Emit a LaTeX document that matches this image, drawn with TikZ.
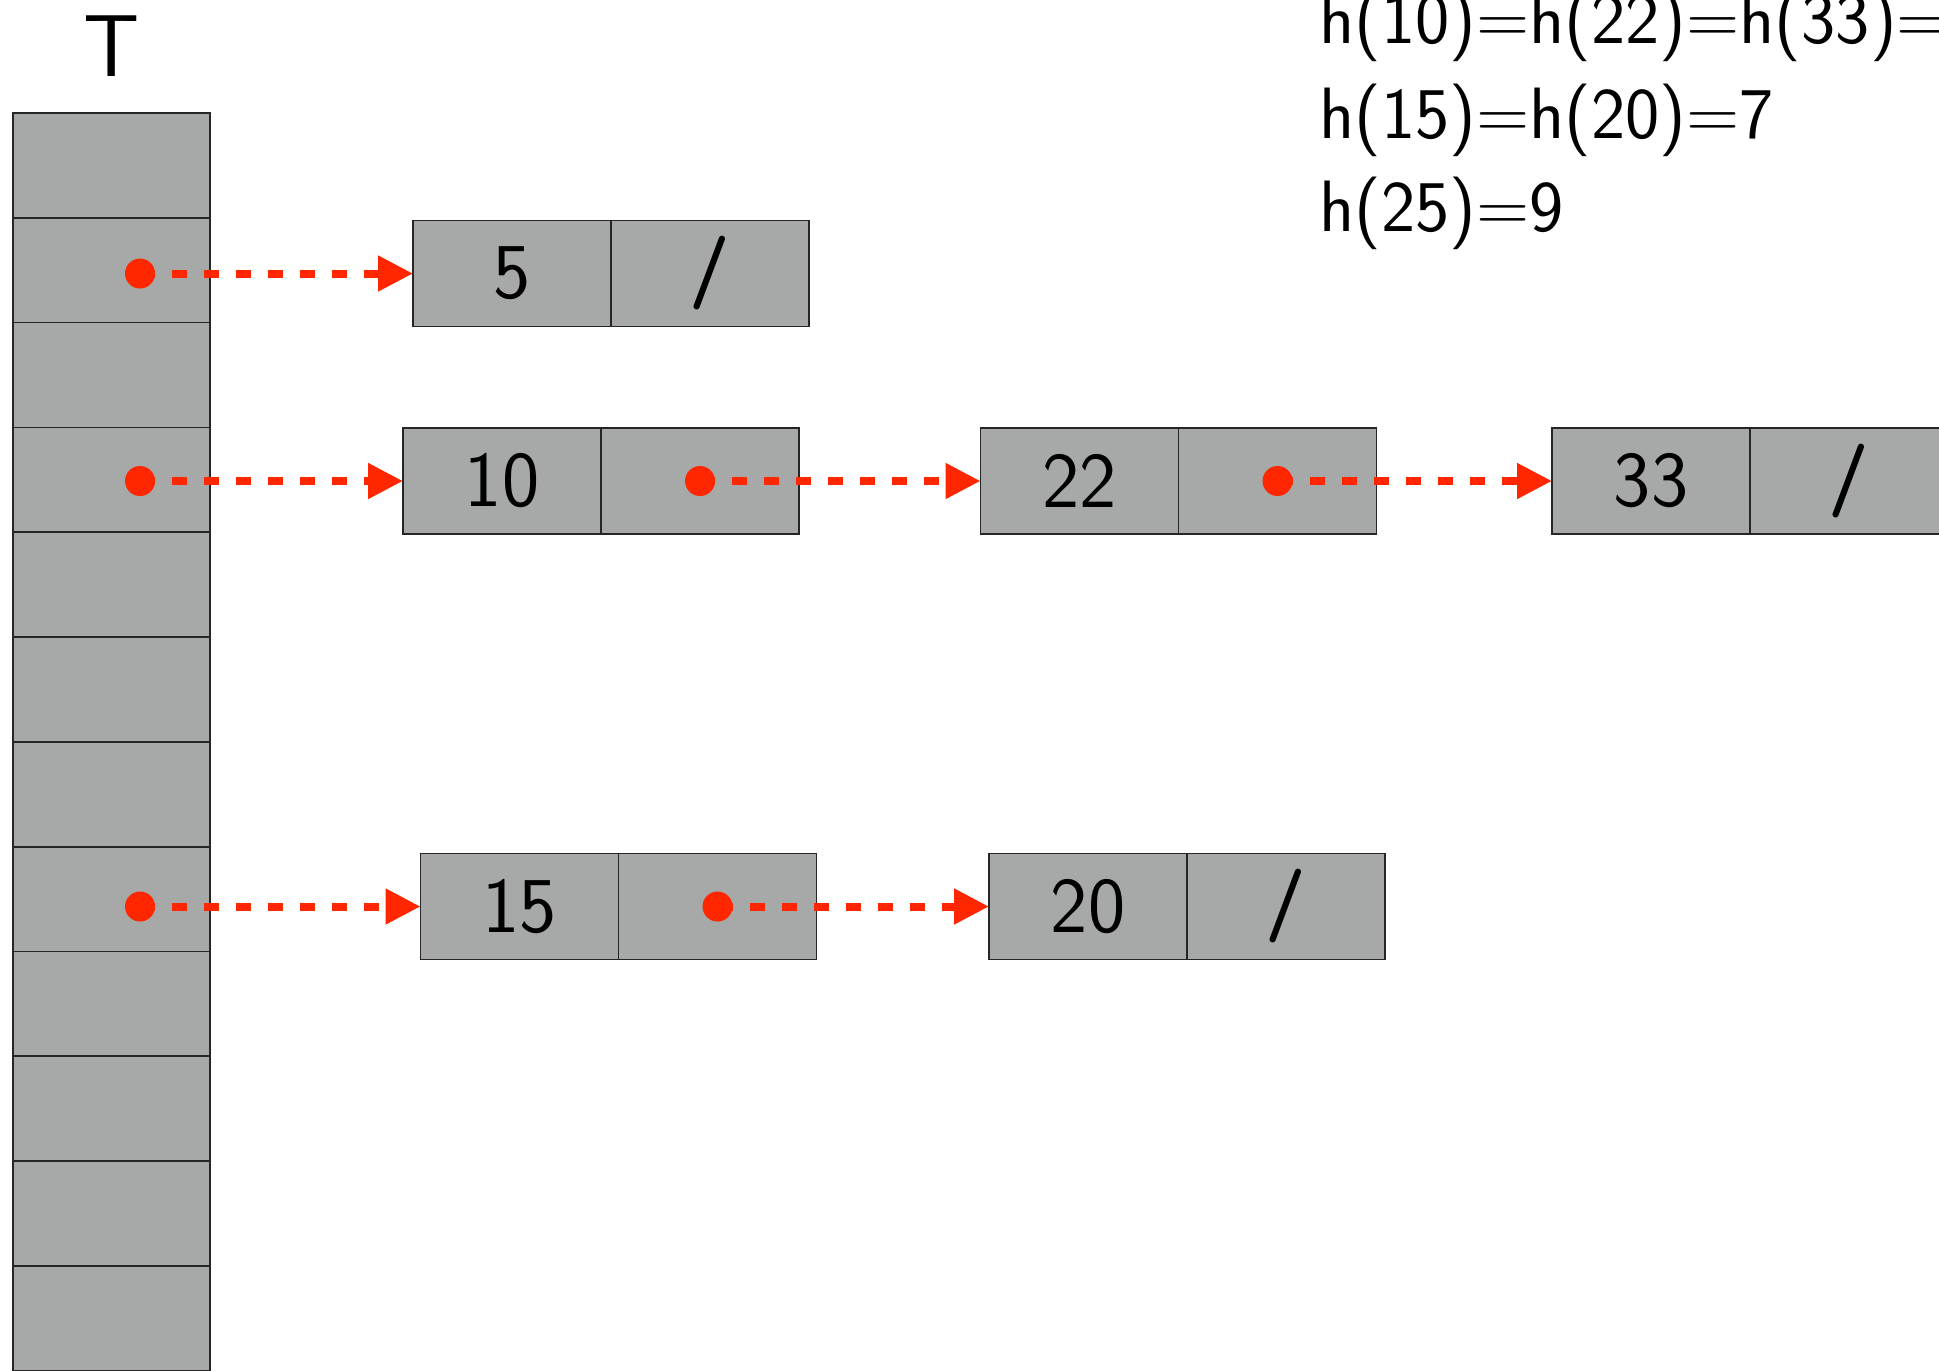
\documentclass[tikz,border=0pt]{standalone}
\usetikzlibrary{positioning,arrows.meta}

\definecolor{cellgray}{RGB}{166,169,168}
\definecolor{ptrred}{RGB}{255,38,0}

\tikzset{
  cell/.style={draw=black!85, fill=cellgray, line width=0.5pt, minimum width=1.98cm,
    minimum height=1.06cm, inner sep=0pt, outer sep=0pt,
    font=\sffamily\fontsize{22.5}{27}\selectfont},
  slot/.style={cell, minimum width=1.97cm, minimum height=1.048cm},
  nil/.style={cell, font=\sffamily\bfseries\fontsize{21}{25}\selectfont},
  dot/.style={circle, fill=ptrred, inner sep=0pt, minimum size=0.3cm},
  ptr/.style={ptrred, line width=0.08cm, dash pattern=on 0.15cm off 0.17cm,
    -{Triangle[length=0.35cm,width=0.34cm]}},
  hashtext/.style={anchor=base west, inner sep=0pt, font=\sffamily\fontsize{20.7}{24}\selectfont}
}

\begin{document}
\begin{tikzpicture}
\useasboundingbox (0,0) rectangle (19.39,-13.70);
\clip (0,0) rectangle (19.39,-13.70);

% Table T
\node[anchor=base, font=\sffamily\fontsize{25}{30}\selectfont] (tlabel) at (1.115,-0.76) {T};
\foreach \i in {0,...,11}
  \node[slot] (t\i) at (1.115,{-1.654-1.048*\i}) {};

% Hash values
\node[hashtext] (hline1) at (13.19,-0.43) {h(10)=h(22)=h(33)=};
\node[hashtext] (hline2) at (13.19,-1.38) {h(15)=h(20)=7};
\node[hashtext] (hline3) at (13.19,-2.31) {h(25)=9};

% Chain of slot 1
\node[cell] (k5) at (5.12,-2.735) {5};
\node[nil, right=0pt of k5] (n5) {/};

% Chain of slot 3
\node[cell] (k10) at (5.02,-4.81) {10};
\node[cell, right=0pt of k10] (n10) {};
\node[cell] (k22) at (10.795,-4.81) {22};
\node[cell, right=0pt of k22] (n22) {};
\node[cell] (k33) at (16.51,-4.81) {33};
\node[nil, right=0pt of k33] (n33) {/};

% Chain of slot 7
\node[cell] (k15) at (5.195,-9.065) {15};
\node[cell, right=0pt of k15] (n15) {};
\node[cell] (k20) at (10.88,-9.065) {20};
\node[nil, right=0pt of k20] (n20) {/};

% Pointers
\node[dot] (dt1) at ([xshift=0.285cm]t1.center |- k5.west) {};
\node[dot] (dt3) at ([xshift=0.285cm]t3.center |- k10.west) {};
\node[dot] (dt7) at ([xshift=0.285cm]t7.center |- k15.west) {};
\node[dot] (d10) at (n10.center) {};
\node[dot] (d22) at (n22.center) {};
\node[dot] (d15) at (n15.center) {};

\draw[ptr] (dt1.center) -- (k5.west);
\draw[ptr] (dt3.center) -- (k10.west);
\draw[ptr] (d10.center) -- (k22.west);
\draw[ptr] (d22.center) -- (k33.west);
\draw[ptr] (dt7.center) -- (k15.west);
\draw[ptr] (d15.center) -- (k20.west);
\end{tikzpicture}
\end{document}
